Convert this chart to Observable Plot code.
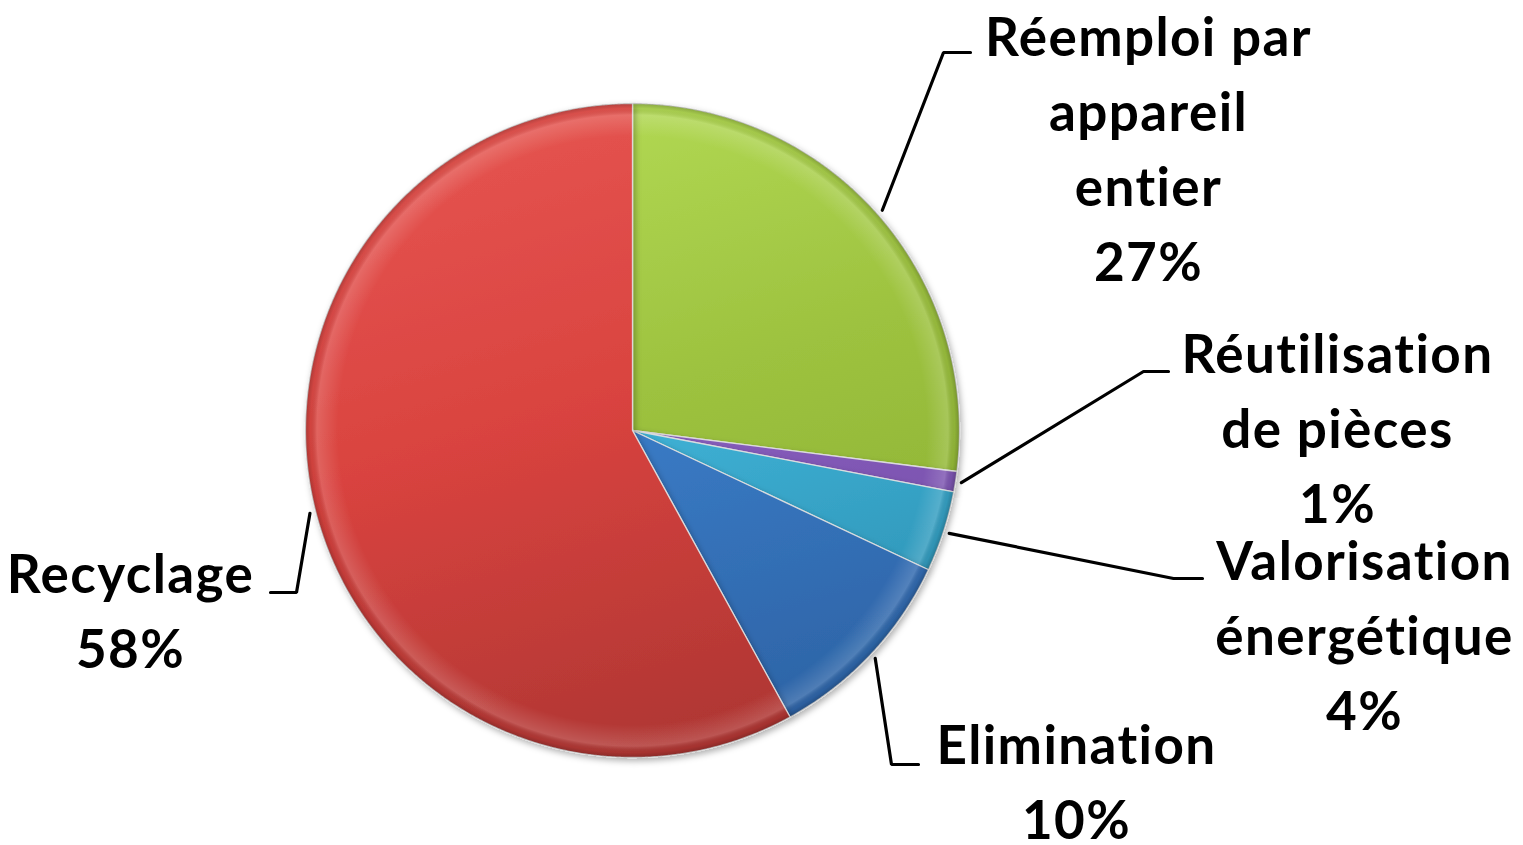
<!DOCTYPE html>
<html><head><meta charset="utf-8">
<script src="https://cdn.jsdelivr.net/npm/d3@7"></script>
<script src="https://cdn.jsdelivr.net/npm/@observablehq/plot@0.6"></script>
<style>html,body{margin:0;padding:0;background:#fff;overflow:hidden} #chart svg{display:block}
#chart text{font-variant-ligatures:none;font-feature-settings:"liga" 0;letter-spacing:1.4px}</style>
</head><body><div id="chart"></div>
<script>
// ---- data ----
const categories = ["Réemploi par appareil entier", "Réutilisation de pièces", "Valorisation énergétique", "Elimination", "Recyclage"];
const labelLines = [["Réemploi par", "appareil", "entier"], ["Réutilisation", "de pièces"], ["Valorisation", "énergétique"], ["Elimination"], ["Recyclage"]];
const values = [27, 1, 4, 10, 58];
// slice shading: [top, middle, bottom]
const sliceColors = [
  ["#b3da55", "#9dc23f", "#88ad30"],
  ["#9a70d0", "#8a5fc0", "#6e4aa0"],
  ["#66dcff", "#40b4d8", "#2a8cae"],
  ["#5c9ceb", "#3b7dc8", "#2c62a4"],
  ["#e55450", "#d9433f", "#ac3532"]
];

// ---- layout (pixels) ----
const W = 1523, H = 845;
const cx = 632, cy = 430, R = 327;
const fontSize = 53, lineStep = 75;
const labelLayout = [
  {x: 1148, base: 55, elbow: [943, 52], end: [970, 52]},
  {x: 1337, base: 372, elbow: [1143, 371], end: [1168, 371]},
  {x: 1364, base: 579, elbow: [1173, 578], end: [1202, 578]},
  {x: 1076, base: 763, elbow: [891, 764], end: [918, 764]},
  {x: 130, base: 592, elbow: [296, 592], end: [270, 592]}
];

// ---- derived geometry ----
const total = d3.sum(values);
let acc = 0;
const slices = values.map((v, i) => {
  const a0 = acc / total * 2 * Math.PI;
  acc += v;
  const a1 = acc / total * 2 * Math.PI;
  return {cat: categories[i], i, a0, a1, mid: (a0 + a1) / 2};
});
const px = (a, r) => cx + r * Math.sin(a);
const py = (a, r) => cy - r * Math.cos(a);

function slicePoints(s) {
  const pts = [{x: cx, y: cy, cat: s.cat}];
  const n = Math.max(2, Math.ceil((s.a1 - s.a0) / (Math.PI / 720)));
  for (let k = 0; k <= n; k++) {
    const a = s.a0 + (s.a1 - s.a0) * k / n;
    pts.push({x: px(a, R), y: py(a, R), cat: s.cat});
  }
  return pts;
}

const leaderPts = slices.flatMap((s, i) => {
  const L = labelLayout[i];
  return [
    {cat: s.cat, x: px(s.mid, R + 6), y: py(s.mid, R + 6)},
    {cat: s.cat, x: L.elbow[0], y: L.elbow[1]},
    {cat: s.cat, x: L.end[0], y: L.end[1]}
  ];
});

const textRows = slices.flatMap((s, i) => {
  const L = labelLayout[i];
  const lines = [...labelLines[i], values[i] + "%"];
  return lines.map((t, j) => ({text: t, x: L.x, y: L.base + j * lineStep}));
});

// defs (gradients + shadow)
function defsMark() {
  const defs = d3.create("svg:defs");
  sliceColors.forEach((c, i) => {
    const g = defs.append("linearGradient").attr("id", "g" + i)
      .attr("gradientUnits", "userSpaceOnUse")
      .attr("x1", cx - R * 0.3).attr("y1", cy - R).attr("x2", cx + R * 0.3).attr("y2", cy + R);
    g.append("stop").attr("offset", "0").attr("stop-color", c[0]);
    g.append("stop").attr("offset", "0.45").attr("stop-color", c[1]);
    g.append("stop").attr("offset", "1").attr("stop-color", c[2]);
  });
  const rg = defs.append("radialGradient").attr("id", "bevel")
    .attr("gradientUnits", "userSpaceOnUse")
    .attr("cx", cx).attr("cy", cy).attr("r", R);
  rg.append("stop").attr("offset", "0.9").attr("stop-color", "#fff").attr("stop-opacity", 0);
  rg.append("stop").attr("offset", "0.965").attr("stop-color", "#fff").attr("stop-opacity", 0.16);
  rg.append("stop").attr("offset", "0.985").attr("stop-color", "#000").attr("stop-opacity", 0.05);
  rg.append("stop").attr("offset", "1").attr("stop-color", "#000").attr("stop-opacity", 0.22);
  const f = defs.append("filter").attr("id", "shadow").attr("x", "-10%").attr("y", "-10%").attr("width", "120%").attr("height", "120%");
  f.append("feDropShadow").attr("dx", 2).attr("dy", 3).attr("stdDeviation", 3)
    .attr("flood-color", "#000").attr("flood-opacity", 0.3);
  return defs.node();
}

const sliceMarks = slices.flatMap((s, i) => {
  const pts = slicePoints(s);
  return [
    Plot.line(pts, {x: "x", y: "y", curve: "linear-closed", fill: `url(#g${i})`, stroke: "rgba(225,225,225,0.9)", strokeWidth: 1.3}),
    Plot.line(pts, {x: "x", y: "y", curve: "linear-closed", fill: "url(#bevel)", stroke: "none"})
  ];
});

const chart = Plot.plot({
  width: W, height: H,
  margin: 0,
  x: {domain: [0, W], axis: null},
  y: {domain: [H, 0], axis: null},
  style: {background: "#fff", overflow: "visible"},
  marks: [
    defsMark,
    ...sliceMarks,
    Plot.line(leaderPts, {x: "x", y: "y", z: "cat", stroke: "#000", strokeWidth: 3.2, strokeLinejoin: "miter"}),
    Plot.text(textRows, {x: "x", y: "y", text: "text", lineAnchor: "bottom", textAnchor: "middle",
      fontSize: fontSize, fontWeight: 700, fontFamily: "Lato, 'Open Sans', sans-serif", fill: "#000"})
  ]
});
d3.select(chart).selectAll('g[fill^="url(#g"]').attr("filter", "url(#shadow)");
document.getElementById("chart").appendChild(chart);
</script>
</body></html>
